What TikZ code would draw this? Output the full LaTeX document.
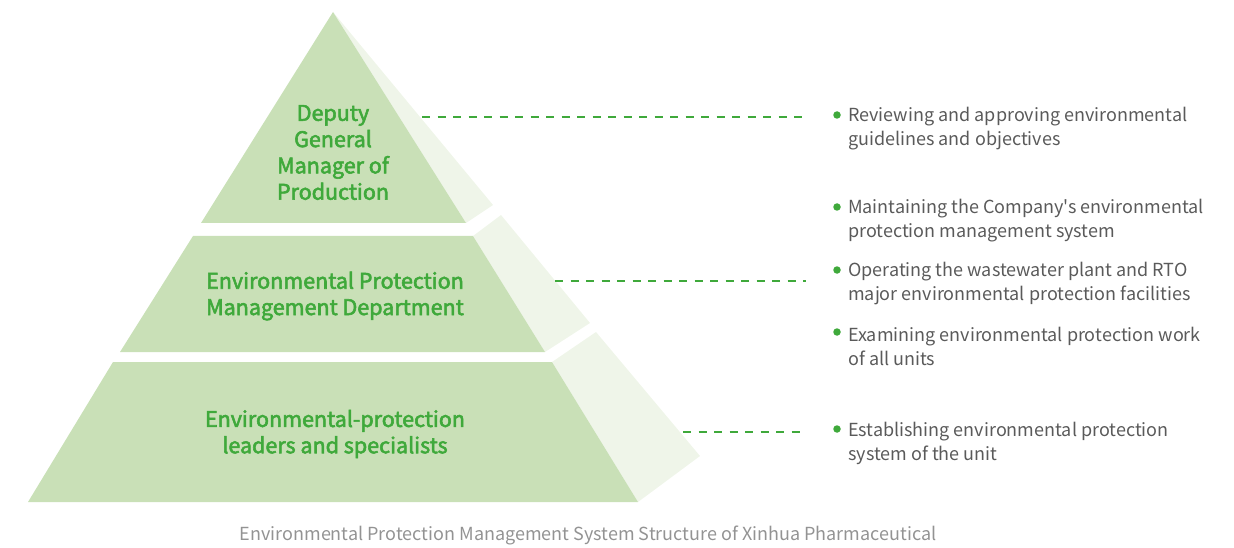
\documentclass[tikz,border=0pt]{standalone}
\usepackage{fontspec}
\setmainfont{Noto Sans CJK SC}
\newfontfamily\plainfont{Noto Sans CJK SC}
\newfontfamily\levelfont{Noto Sans CJK SC}[FakeBold=2.6]
\definecolor{frontface}{HTML}{C9E0B7}
\definecolor{sideface}{HTML}{EFF5E9}
\definecolor{levelgreen}{HTML}{3FA93B}
\definecolor{itemgray}{HTML}{5A5A5A}
\definecolor{captiongray}{HTML}{939393}
\tikzset{
  front/.style={fill=frontface, draw=none},
  side/.style={fill=sideface, draw=none},
  levellabel/.style={text=levelgreen, align=center, inner sep=0pt,
    font=\levelfont\fontsize{21.5}{26.3}\selectfont},
  linkline/.style={draw=levelgreen, line width=2pt, dash pattern=on 8pt off 7.5pt},
  bulletdot/.style={circle, fill=levelgreen, minimum size=7.5pt, inner sep=0pt},
  itemtext/.style={text=itemgray, align=left, anchor=west, inner sep=0pt,
    font=\plainfont\fontsize{18}{24}\selectfont},
  captiontext/.style={text=captiongray, inner sep=0pt,
    font=\plainfont\fontsize{18}{22}\selectfont}
}
\begin{document}
\begin{tikzpicture}[x=1pt, y=-1pt]
\useasboundingbox (0,0) rectangle (1234,548);

% pyramid: top tier
\fill[side]  (333,12) -- (493,205) -- (466,223) -- cycle;
\fill[front] (333,12) -- (466,223) -- (201,223) -- cycle;
% middle tier
\fill[side]  (473,236) -- (501,215) -- (590,323) -- (545,352) -- cycle;
\fill[front] (193,236) -- (473,236) -- (545,352) -- (120,352) -- cycle;
% bottom tier
\fill[side]  (552,362) -- (596,332) -- (700,456) -- (638,502) -- cycle;
\fill[front] (113,362) -- (552,362) -- (638,502) -- (28,502) -- cycle;

% tier labels
\node[levellabel] (top) at (333,152.5) {Deputy\\General\\Manager of\\Production};
\node[levellabel] (mid) at (335,296) {Environmental Protection\\Management Department};
\node[levellabel] (base) at (335,434) {Environmental-protection\\leaders and specialists};

% connector ends
\coordinate (s1) at (422,117);
\coordinate (e1) at (806,117);
\coordinate (s2) at (555,281);
\coordinate (e2) at (806,281);
\coordinate (s3) at (683,432);
\coordinate (e3) at (806,432);
\draw[linkline] (s1) -- (e1);
\draw[linkline] (s2) -- (e2);
\draw[linkline] (s3) -- (e3);

% duty lists
\node[bulletdot] (b1) at (837,115) {};
\node[itemtext] (t1) at (848,129) {Reviewing and approving environmental\\guidelines and objectives};
\node[bulletdot] (b2) at (837,207) {};
\node[itemtext] (t2) at (848,221) {Maintaining the Company's environmental\\protection management system};
\node[bulletdot] (b3) at (837,270) {};
\node[itemtext] (t3) at (848,284) {Operating the wastewater plant and RTO\\major environmental protection facilities};
\node[bulletdot] (b4) at (837,332) {};
\node[itemtext] (t4) at (848,346) {Examining environmental protection work\\of all units};
\node[bulletdot] (b5) at (837,429) {};
\node[itemtext] (t5) at (848,443) {Establishing environmental protection\\system of the unit};

% caption
\node[captiontext] (cap) at (588,535) {Environmental Protection Management System Structure of Xinhua Pharmaceutical};
\end{tikzpicture}
\end{document}
